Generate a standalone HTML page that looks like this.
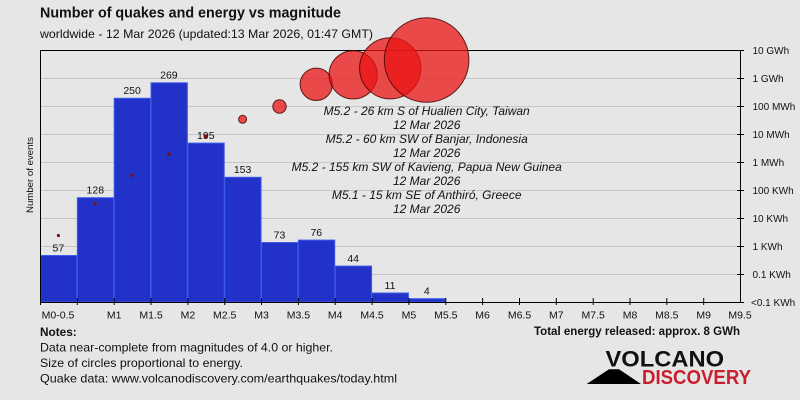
<!DOCTYPE html>
<html><head><meta charset="utf-8"><style>
html,body{margin:0;padding:0;background:#e6e6e6;}
svg{display:block;}
text{font-family:"Liberation Sans",Arial,sans-serif;fill:#111;}
</style></head><body>
<svg width="800" height="400" viewBox="0 0 800 400" xmlns="http://www.w3.org/2000/svg">
<rect x="0" y="0" width="800" height="400" fill="#e6e6e6"/>
<!-- title -->
<text x="40" y="17.5" font-size="15" font-weight="bold" textLength="301" lengthAdjust="spacingAndGlyphs">Number of quakes and energy vs magnitude</text>
<text x="40" y="38" font-size="12" textLength="333" lengthAdjust="spacingAndGlyphs">worldwide - 12 Mar 2026 (updated:13 Mar 2026, 01:47 GMT)</text>

<!-- gridlines -->
<g stroke="#c6c6c6" stroke-width="1">
<line x1="40" y1="78.5" x2="740" y2="78.5"/>
<line x1="40" y1="106.5" x2="740" y2="106.5"/>
<line x1="40" y1="134.5" x2="740" y2="134.5"/>
<line x1="40" y1="162.5" x2="740" y2="162.5"/>
<line x1="40" y1="190.5" x2="740" y2="190.5"/>
<line x1="40" y1="218.5" x2="740" y2="218.5"/>
<line x1="40" y1="246.5" x2="740" y2="246.5"/>
<line x1="40" y1="274.5" x2="740" y2="274.5"/>
</g>

<!-- bars -->
<g fill="#2232c8" stroke="#3d5cec" stroke-width="1">
<rect x="40.5" y="255.5" width="36.34" height="46.5"/>
<rect x="77.34" y="197.7" width="36.34" height="104.3"/>
<rect x="114.18" y="98.25" width="36.34" height="203.75"/>
<rect x="151.03" y="82.8" width="36.34" height="219.2"/>
<rect x="187.87" y="143.1" width="36.34" height="158.9"/>
<rect x="224.71" y="177.3" width="36.34" height="124.7"/>
<rect x="261.55" y="242.5" width="36.34" height="59.5"/>
<rect x="298.39" y="240.1" width="36.34" height="61.9"/>
<rect x="335.24" y="266.1" width="36.34" height="35.9"/>
<rect x="372.08" y="293" width="36.34" height="9"/>
<rect x="408.92" y="298.7" width="36.34" height="3.3"/>
</g>

<!-- count labels -->
<g font-size="10.5" text-anchor="middle">
<text x="58.4" y="251.3">57</text>
<text x="95.3" y="193.5">128</text>
<text x="132.1" y="94">250</text>
<text x="168.9" y="78.6">269</text>
<text x="205.8" y="138.9">195</text>
<text x="242.6" y="173.1">153</text>
<text x="279.5" y="238.3">73</text>
<text x="316.3" y="235.9">76</text>
<text x="353.2" y="261.9">44</text>
<text x="390" y="288.8">11</text>
<text x="426.8" y="294.5">4</text>
</g>

<!-- axes -->
<g stroke="#000" stroke-width="1" fill="none">
<line x1="40" y1="50.5" x2="740.5" y2="50.5"/>
<line x1="40.5" y1="50" x2="40.5" y2="302.5"/>
<line x1="740.5" y1="50" x2="740.5" y2="302.5"/>
<line x1="40" y1="302.5" x2="741" y2="302.5"/>
</g>
<!-- right ticks -->
<g stroke="#000" stroke-width="1">
<line x1="737" y1="50.5" x2="744" y2="50.5"/>
<line x1="737" y1="78.5" x2="744" y2="78.5"/>
<line x1="737" y1="106.5" x2="744" y2="106.5"/>
<line x1="737" y1="134.5" x2="744" y2="134.5"/>
<line x1="737" y1="162.5" x2="744" y2="162.5"/>
<line x1="737" y1="190.5" x2="744" y2="190.5"/>
<line x1="737" y1="218.5" x2="744" y2="218.5"/>
<line x1="737" y1="246.5" x2="744" y2="246.5"/>
<line x1="737" y1="274.5" x2="744" y2="274.5"/>
<line x1="737" y1="302.5" x2="744" y2="302.5"/>
</g>
<!-- bottom ticks -->
<g stroke="#000" stroke-width="1">
<line x1="40.5" y1="298" x2="40.5" y2="305"/>
<line x1="77.3" y1="298" x2="77.3" y2="305"/>
<line x1="114.2" y1="298" x2="114.2" y2="305"/>
<line x1="151" y1="298" x2="151" y2="305"/>
<line x1="187.9" y1="298" x2="187.9" y2="305"/>
<line x1="224.7" y1="298" x2="224.7" y2="305"/>
<line x1="261.5" y1="298" x2="261.5" y2="305"/>
<line x1="298.4" y1="298" x2="298.4" y2="305"/>
<line x1="335.2" y1="298" x2="335.2" y2="305"/>
<line x1="372.1" y1="298" x2="372.1" y2="305"/>
<line x1="408.9" y1="298" x2="408.9" y2="305"/>
<line x1="445.8" y1="298" x2="445.8" y2="305"/>
<line x1="482.6" y1="298" x2="482.6" y2="305"/>
<line x1="519.5" y1="298" x2="519.5" y2="305"/>
<line x1="556.3" y1="298" x2="556.3" y2="305"/>
<line x1="593.2" y1="298" x2="593.2" y2="305"/>
<line x1="630" y1="298" x2="630" y2="305"/>
<line x1="666.8" y1="298" x2="666.8" y2="305"/>
<line x1="703.7" y1="298" x2="703.7" y2="305"/>
</g>

<!-- x labels -->
<g font-size="10.5" text-anchor="middle" fill="#111">
<text x="58" y="318.7">M0-0.5</text>
<text x="114.2" y="318.7">M1</text>
<text x="151" y="318.7">M1.5</text>
<text x="187.9" y="318.7">M2</text>
<text x="224.7" y="318.7">M2.5</text>
<text x="261.5" y="318.7">M3</text>
<text x="298.4" y="318.7">M3.5</text>
<text x="335.2" y="318.7">M4</text>
<text x="372.1" y="318.7">M4.5</text>
<text x="408.9" y="318.7">M5</text>
<text x="445.8" y="318.7">M5.5</text>
<text x="482.6" y="318.7">M6</text>
<text x="519.5" y="318.7">M6.5</text>
<text x="556.3" y="318.7">M7</text>
<text x="593.2" y="318.7">M7.5</text>
<text x="630" y="318.7">M8</text>
<text x="666.8" y="318.7">M8.5</text>
<text x="703.7" y="318.7">M9</text>
<text x="740" y="318.7">M9.5</text>
</g>

<!-- right labels -->
<g font-size="10">
<text x="752.5" y="54">10 GWh</text>
<text x="752.5" y="82">1 GWh</text>
<text x="752.5" y="110">100 MWh</text>
<text x="752.5" y="138">10 MWh</text>
<text x="752.5" y="166">1 MWh</text>
<text x="752.5" y="194">100 KWh</text>
<text x="752.5" y="222">10 KWh</text>
<text x="752.5" y="250">1 KWh</text>
<text x="752.5" y="278">0.1 KWh</text>
<text x="751" y="306">&lt;0.1 KWh</text>
</g>

<!-- y label -->
<text transform="translate(32.8,175) rotate(-90)" font-size="9.5" text-anchor="middle" textLength="76" lengthAdjust="spacingAndGlyphs">Number of events</text>

<!-- energy circles -->
<g fill="#7a1010">
<circle cx="58.4" cy="235.5" r="1.6"/>
<circle cx="95.3" cy="203.3" r="1.6"/>
<circle cx="132.1" cy="175.3" r="1.7"/>
<circle cx="168.9" cy="154.3" r="1.8"/>
<circle cx="205.8" cy="136.5" r="2.2"/>
</g>
<g fill="rgba(235,20,20,0.75)" stroke="rgba(70,5,5,0.85)" stroke-width="1">
<circle cx="242.6" cy="119.3" r="4"/>
<circle cx="279.5" cy="106.5" r="6.7"/>
<circle cx="316.3" cy="84.3" r="16.2"/>
<circle cx="353.2" cy="74.8" r="24.1"/>
<circle cx="390.2" cy="68.3" r="30.6"/>
<circle cx="426.6" cy="60" r="42.3"/>
</g>

<!-- annotations -->
<g font-size="12" font-style="italic" text-anchor="middle">
<text x="426.7" y="115">M5.2 - 26 km S of Hualien City, Taiwan</text>
<text x="426.7" y="129">12 Mar 2026</text>
<text x="426.7" y="143">M5.2 - 60 km SW of Banjar, Indonesia</text>
<text x="426.7" y="157">12 Mar 2026</text>
<text x="426.7" y="171">M5.2 - 155 km SW of Kavieng, Papua New Guinea</text>
<text x="426.7" y="185">12 Mar 2026</text>
<text x="426.7" y="199">M5.1 - 15 km SE of Anthiró, Greece</text>
<text x="426.7" y="213">12 Mar 2026</text>
</g>

<!-- notes -->
<text x="40" y="335.8" font-size="12" font-weight="bold" fill="#333" textLength="36.7" lengthAdjust="spacingAndGlyphs">Notes:</text>
<text x="40" y="351.5" font-size="12" textLength="293" lengthAdjust="spacingAndGlyphs">Data near-complete from magnitudes of 4.0 or higher.</text>
<text x="40" y="367" font-size="12" textLength="203" lengthAdjust="spacingAndGlyphs">Size of circles proportional to energy.</text>
<text x="40" y="382.5" font-size="12" textLength="357" lengthAdjust="spacingAndGlyphs">Quake data: www.volcanodiscovery.com/earthquakes/today.html</text>

<text x="534" y="335.2" font-size="11.5" font-weight="bold" textLength="206" lengthAdjust="spacingAndGlyphs">Total energy released: approx. 8 GWh</text>

<!-- logo -->
<polygon points="586.7,384 609,369.3 619,369.3 641,384" fill="#000"/>
<text x="605.5" y="366.7" font-size="22" font-weight="bold" fill="#000" textLength="118.5" lengthAdjust="spacingAndGlyphs">VOLCANO</text>
<text x="642" y="384" font-size="20" font-weight="bold" fill="#c81e2d" style="fill:#c81e2d" textLength="109" lengthAdjust="spacingAndGlyphs">DISCOVERY</text>
</svg>
</body></html>
